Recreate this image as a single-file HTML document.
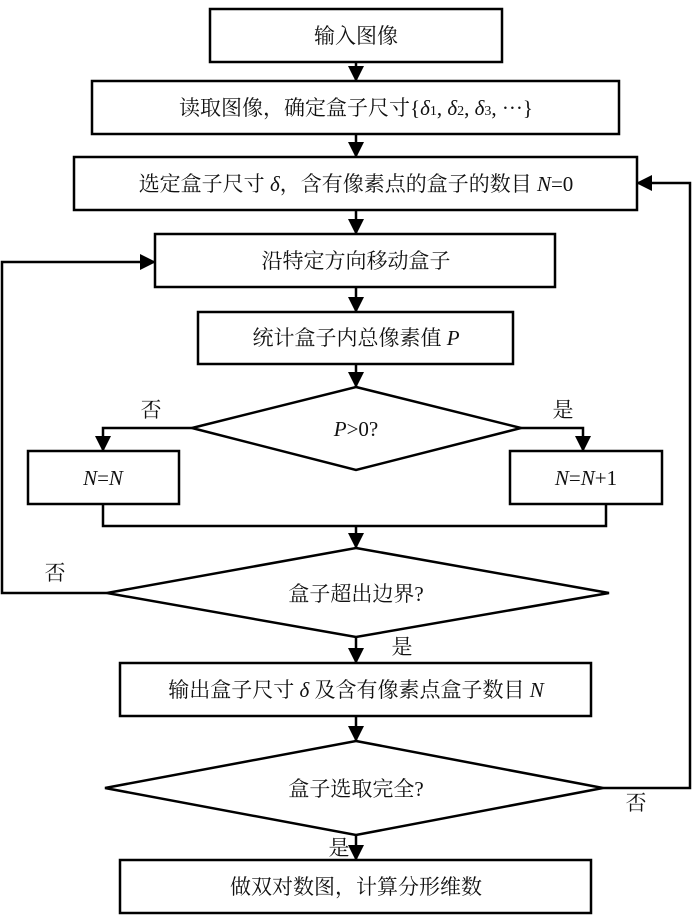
<!DOCTYPE html>
<html><head><meta charset="utf-8"><style>
html,body{margin:0;padding:0;background:#fff;}
svg{display:block;}
text{font-family:"Liberation Serif","Noto Serif CJK SC",serif;font-size:21px;fill:#111;}
.i{font-style:italic;}
</style></head><body>
<svg width="700" height="924" viewBox="0 0 700 924" xmlns="http://www.w3.org/2000/svg">
<defs><marker id="a" markerWidth="10" markerHeight="10" refX="9" refY="5" orient="auto" markerUnits="userSpaceOnUse"><path d="M0,0 L10,5 L0,10 z" fill="#000"/></marker>
<marker id="b" markerWidth="16" markerHeight="16" refX="15" refY="8" orient="auto" markerUnits="userSpaceOnUse"><path d="M0,0 L16,8 L0,16 z" fill="#000"/></marker></defs>
<g fill="none" stroke="#000" stroke-width="2.5">
<rect x="210" y="9" width="292" height="53"/>
<rect x="92" y="81" width="527" height="53"/>
<rect x="74" y="157" width="563" height="53"/>
<rect x="155" y="234" width="400" height="53"/>
<rect x="198" y="312" width="315" height="52"/>
<polygon points="356,387 521,428 356,470 192,428"/>
<rect x="28" y="451" width="151" height="53"/>
<rect x="510" y="451" width="152" height="53"/>
<polygon points="356,548 609,593 356,637 107,593"/>
<rect x="120" y="663" width="471" height="53"/>
<polygon points="356,741 603,788 356,835 105,788"/>
<rect x="120" y="860" width="471" height="53"/>
</g>
<g fill="none" stroke="#000" stroke-width="2.5" marker-end="url(#b)">
<line x1="356" y1="62" x2="356" y2="81"/>
<line x1="356" y1="134" x2="356" y2="157"/>
<line x1="356" y1="210" x2="356" y2="234"/>
<line x1="356" y1="287" x2="356" y2="312"/>
<line x1="356" y1="364" x2="356" y2="387"/>
<polyline points="192,428 103,428 103,451"/>
<polyline points="521,428 583,428 583,451"/>
<line x1="356" y1="526" x2="356" y2="548"/>
<polyline points="107,593 2,593 2,262 155,262"/>
<line x1="356" y1="637" x2="356" y2="663"/>
<line x1="356" y1="716" x2="356" y2="741"/>
<polyline points="603,788 690,788 690,183 637,183"/>
<line x1="356" y1="835" x2="356" y2="860"/>
</g>
<polyline points="103,504 103,526 606,526 606,504" fill="none" stroke="#000" stroke-width="2.5"/>
<g text-anchor="middle">
<text x="356" y="43">输入图像</text>
<text x="356" y="115">读取图像，确定盒子尺寸{<tspan class="i">δ</tspan><tspan font-size="14">1</tspan>, <tspan class="i">δ</tspan><tspan font-size="14">2</tspan>, <tspan class="i">δ</tspan><tspan font-size="14">3</tspan>, ···}</text>
<text x="356" y="191">选定盒子尺寸 <tspan class="i">δ</tspan>，含有像素点的盒子的数目 <tspan class="i">N</tspan>=0</text>
<text x="356" y="268">沿特定方向移动盒子</text>
<text x="356" y="345">统计盒子内总像素值 <tspan class="i">P</tspan></text>
<text x="356" y="436"><tspan class="i">P</tspan>&gt;0?</text>
<text x="103" y="485"><tspan class="i">N</tspan>=<tspan class="i">N</tspan></text>
<text x="586" y="485"><tspan class="i">N</tspan>=<tspan class="i">N</tspan>+1</text>
<text x="356" y="601">盒子超出边界?</text>
<text x="356" y="697">输出盒子尺寸 <tspan class="i">δ</tspan> 及含有像素点盒子数目 <tspan class="i">N</tspan></text>
<text x="356" y="796">盒子选取完全?</text>
<text x="356" y="894">做双对数图，计算分形维数</text>
<text x="151" y="417">否</text>
<text x="563" y="417">是</text>
<text x="55" y="580">否</text>
<text x="402" y="654">是</text>
<text x="636" y="810">否</text>
<text x="339" y="855">是</text>
</g>
</svg>
</body></html>
